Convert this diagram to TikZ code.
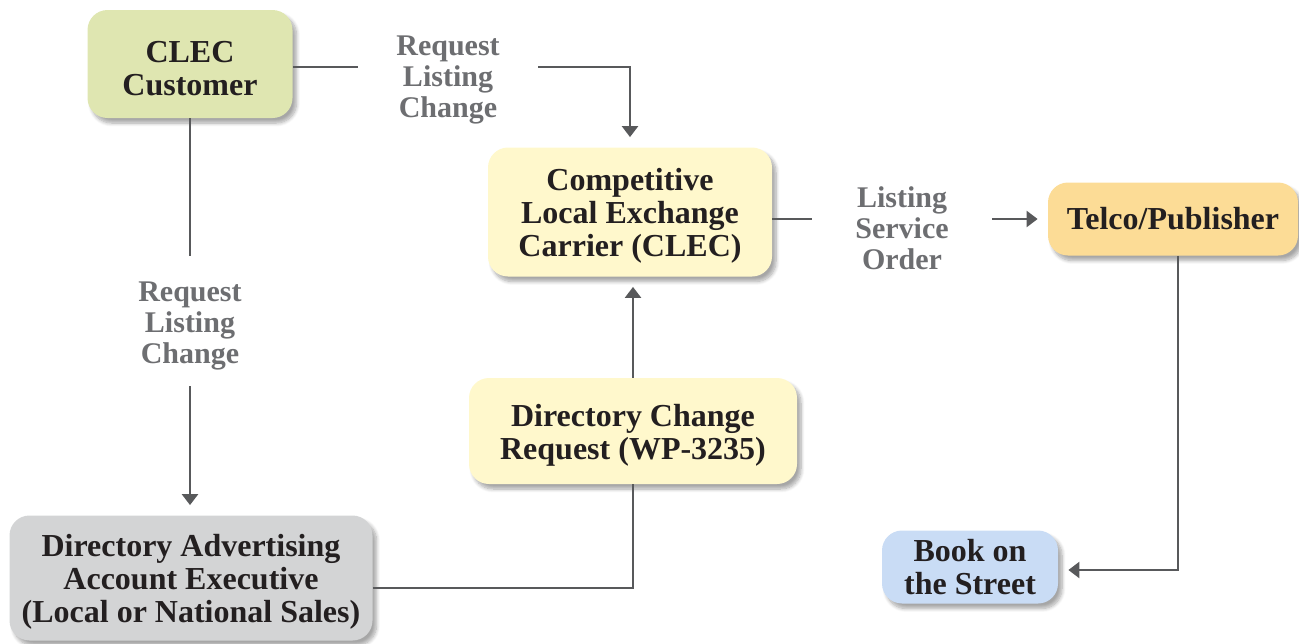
\documentclass[tikz,border=0pt]{standalone}
\usepackage{fontspec}
\setmainfont{Liberation Serif}
\usetikzlibrary{arrows.meta,shadows.blur}

\definecolor{custgreen}{HTML}{DFE6B1}
\definecolor{clecyellow}{HTML}{FFF8CC}
\definecolor{telcoorange}{HTML}{FCDC96}
\definecolor{daegray}{HTML}{D3D4D5}
\definecolor{bookblue}{HTML}{C9DCF5}
\definecolor{inkgray}{HTML}{58595B}
\definecolor{labelgray}{HTML}{6D6E71}
\definecolor{boxtext}{HTML}{231F20}

% lowers a node's text block a little
\newcommand\topstrut{\rule{0pt}{15pt}}

\tikzset{
  box/.style={rounded corners=10pt, align=center, text=boxtext,
    font=\fontsize{16}{16.5}\selectfont\bfseries, inner sep=0pt,
    blur shadow={shadow xshift=2pt, shadow yshift=-2.5pt, shadow blur steps=8, shadow opacity=35}},
  lbl/.style={align=center, text=labelgray, fill=white, inner sep=0pt,
    font=\fontsize{15}{15.5}\selectfont\bfseries,
    minimum width=90pt, minimum height=65pt},
  line/.style={draw=inkgray, line width=1.2pt},
  arr/.style={line, -{Triangle[width=8pt,length=5.5pt]}, shorten >=5pt}
}

\begin{document}
\begin{tikzpicture}[x=0.5pt, y=-0.5pt]
  \useasboundingbox (0,0) rectangle (1299,643);

  % boxes
  \node[box, fill=custgreen, minimum width=102.5pt, minimum height=54pt] (cust) at (190,64) {\topstrut CLEC\\Customer};
  \node[box, fill=clecyellow, minimum width=142pt, minimum height=64.5pt] (clec) at (630,212) {\topstrut Competitive\\Local Exchange\\Carrier (CLEC)};
  \node[box, fill=telcoorange, minimum width=125pt, minimum height=36.5pt] (telco) at (1173,219) {Telco/Publisher};
  \node[box, fill=clecyellow, minimum width=164pt, minimum height=53pt] (dcr) at (633,431) {\topstrut Directory Change\\Request (WP-3235)};
  \node[box, fill=daegray, minimum width=181.5pt, minimum height=62.5pt] (dae) at (191,578) {\topstrut Directory Advertising\\Account Executive\\(Local or National Sales)};
  \node[box, fill=bookblue, minimum width=88pt, minimum height=36.5pt] (book) at (970,567) {Book on\\the Street};

  % labels
  \node[lbl] (req1) at (448,75) {\topstrut Request\\Listing\\Change};
  \node[lbl] (req2) at (190,321) {\topstrut Request\\Listing\\Change};
  \node[lbl] (lso) at (902,224) {\topstrut Listing\\Service\\Order};

  % connectors
  \draw[line] ([yshift=-1.5pt]cust.east) -- ([yshift=-1.5pt]cust.east -| req1.west);
  \draw[arr] ([yshift=-1.5pt]cust.east -| req1.east) -| (clec.north);
  \draw[line] (cust.south) -- (cust.south |- req2.north);
  \draw[arr] (cust.south |- req2.south) -- (cust.south |- dae.north);
  \draw[line] (clec.east |- telco.west) -- (lso.west |- telco.west);
  \draw[arr] (lso.east |- telco.west) -- (telco.west);
  \draw[line] ([yshift=-5pt]dae.east) -| (dcr.south);
  \draw[arr] (dcr.north) -- (dcr.north |- clec.south);
  \draw[arr] ([xshift=2.5pt]telco.south) |- ([yshift=-1.5pt]book.east);
\end{tikzpicture}
\end{document}
